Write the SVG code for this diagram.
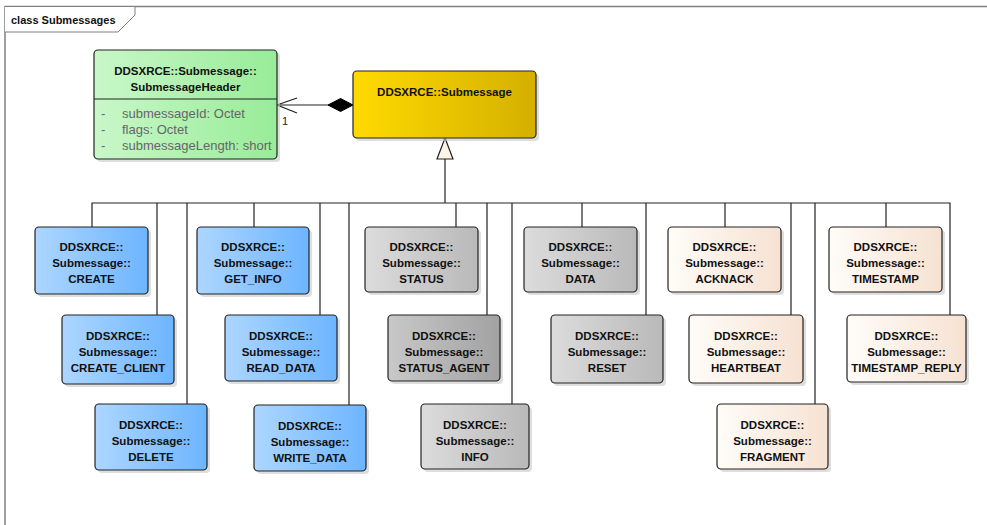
<svg xmlns="http://www.w3.org/2000/svg" width="987" height="525" viewBox="0 0 987 525">
<defs>
<linearGradient id="gBlue" x1="0" y1="0" x2="1" y2="0"><stop offset="0" stop-color="#ADD6FF"/><stop offset="1" stop-color="#6DB5FF"/></linearGradient>
<linearGradient id="gGrey" x1="0" y1="0" x2="1" y2="0"><stop offset="0" stop-color="#DCDCDC"/><stop offset="1" stop-color="#B9B9B9"/></linearGradient>
<linearGradient id="gGreyD" x1="0" y1="0" x2="1" y2="0"><stop offset="0" stop-color="#C8C8C8"/><stop offset="1" stop-color="#A2A2A2"/></linearGradient>
<linearGradient id="gCream" x1="0" y1="0" x2="1" y2="0"><stop offset="0" stop-color="#FFFCF8"/><stop offset="1" stop-color="#F6E2D2"/></linearGradient>
<linearGradient id="gGreen" x1="0" y1="0" x2="1" y2="0"><stop offset="0" stop-color="#C9F7C9"/><stop offset="1" stop-color="#98EC98"/></linearGradient>
<linearGradient id="gGold" x1="0" y1="0" x2="1" y2="0"><stop offset="0" stop-color="#FFDA00"/><stop offset="1" stop-color="#D4B000"/></linearGradient>
</defs>
<style>
.box{stroke:#222;stroke-width:1.2}
.sh{fill:#C8C8C8;opacity:0.6}
.t{font-family:"Liberation Sans",Arial,sans-serif;font-size:11.5px;font-weight:bold;fill:#111;text-anchor:middle}
.a{font-family:"Liberation Sans",Arial,sans-serif;font-size:13px;fill:#666}
.c{fill:none;stroke:#222;stroke-width:1.2}
</style>
<rect width="987" height="525" fill="#fff"/>
<g id="frame">
<path d="M5,525 V6.5 H987" fill="none" stroke="#808080" stroke-width="1.5"/>
<path d="M5,6.5 H135 V15 L118,32 H5" fill="#fff" stroke="#808080" stroke-width="1"/>
<text x="11" y="24" style="font-family:'Liberation Sans',Arial,sans-serif;font-size:11px;font-weight:bold;fill:#111">class Submessages</text>
</g>
<g id="connectors">
<path class="c" d="M277,105 H353"/>
<path class="c" d="M297,98 L277,105 L297,113"/>
<path d="M328,105 L340.5,98.5 L353,105 L340.5,111.5 Z" fill="#000" stroke="#000"/>
<text x="282" y="125" style="font-family:'Liberation Sans',Arial,sans-serif;font-size:11px;fill:#222">1</text>
<path class="c" d="M445,159 V203"/>
<path d="M445,138 L437,159 H453 Z" fill="#FDF3E6" stroke="#222" stroke-width="1.2"/>
<path class="c" d="M92,227 V203 H950 V315"/>
<path class="c" d="M157,315 V203 M187,404 V203 M254,227 V203 M320,315 V203 M349,405 V203 M456,227 V203 M487,315 V203 M512,404 V203 M582,227 V203 M646,315 V203 M725,227 V203 M791,315 V203 M815,404 V203 M886,227 V203"/>
</g>
<g id="SubmessageHeader">
<rect class="sh" x="97" y="53" width="183" height="109" rx="4"/>
<rect class="box" x="94" y="50" width="183" height="109" rx="4" fill="url(#gGreen)"/>
<line x1="94" y1="99" x2="277" y2="99" stroke="#222" stroke-width="1.2"/>
<text class="t" x="185.5" y="75">DDSXRCE::Submessage::</text>
<text class="t" x="185.5" y="91">SubmessageHeader</text>
<text class="a" x="101" y="118">-</text><text class="a" x="122" y="118">submessageId: Octet</text>
<text class="a" x="101" y="134">-</text><text class="a" x="122" y="134">flags: Octet</text>
<text class="a" x="101" y="150">-</text><text class="a" x="122" y="150">submessageLength: short</text>
</g>
<g id="Submessage">
<rect class="sh" x="356" y="74" width="183" height="67" rx="4"/>
<rect class="box" x="353" y="71" width="183" height="67" rx="4" fill="url(#gGold)"/>
<text class="t" x="444.5" y="96">DDSXRCE::Submessage</text>
</g>
<g id="CREATE">
<rect class="sh" x="38" y="230" width="113" height="67" rx="4"/>
<rect class="box" x="35" y="227" width="113" height="67" rx="4" fill="url(#gBlue)"/>
<text class="t" x="91.5" y="251">DDSXRCE::</text><text class="t" x="91.5" y="267">Submessage::</text><text class="t" x="91.5" y="283">CREATE</text>
</g>
<g id="CREATE_CLIENT">
<rect class="sh" x="65" y="318" width="112" height="69" rx="4"/>
<rect class="box" x="62" y="315" width="112" height="69" rx="4" fill="url(#gBlue)"/>
<text class="t" x="118" y="340">DDSXRCE::</text><text class="t" x="118" y="356">Submessage::</text><text class="t" x="118" y="372">CREATE_CLIENT</text>
</g>
<g id="DELETE">
<rect class="sh" x="98" y="407" width="112" height="66" rx="4"/>
<rect class="box" x="95" y="404" width="112" height="66" rx="4" fill="url(#gBlue)"/>
<text class="t" x="151" y="429">DDSXRCE::</text><text class="t" x="151" y="445">Submessage::</text><text class="t" x="151" y="461">DELETE</text>
</g>
<g id="GET_INFO">
<rect class="sh" x="200" y="230" width="112" height="67" rx="4"/>
<rect class="box" x="197" y="227" width="112" height="67" rx="4" fill="url(#gBlue)"/>
<text class="t" x="253" y="251">DDSXRCE::</text><text class="t" x="253" y="267">Submessage::</text><text class="t" x="253" y="283">GET_INFO</text>
</g>
<g id="READ_DATA">
<rect class="sh" x="228" y="318" width="112" height="66" rx="4"/>
<rect class="box" x="225" y="315" width="112" height="66" rx="4" fill="url(#gBlue)"/>
<text class="t" x="281" y="340">DDSXRCE::</text><text class="t" x="281" y="356">Submessage::</text><text class="t" x="281" y="372">READ_DATA</text>
</g>
<g id="WRITE_DATA">
<rect class="sh" x="257" y="408" width="112" height="66" rx="4"/>
<rect class="box" x="254" y="405" width="112" height="66" rx="4" fill="url(#gBlue)"/>
<text class="t" x="310" y="430">DDSXRCE::</text><text class="t" x="310" y="446">Submessage::</text><text class="t" x="310" y="462">WRITE_DATA</text>
</g>
<g id="STATUS">
<rect class="sh" x="368" y="230" width="113" height="65" rx="4"/>
<rect class="box" x="365" y="227" width="113" height="65" rx="4" fill="url(#gGrey)"/>
<text class="t" x="421.5" y="251">DDSXRCE::</text><text class="t" x="421.5" y="267">Submessage::</text><text class="t" x="421.5" y="283">STATUS</text>
</g>
<g id="STATUS_AGENT">
<rect class="sh" x="391" y="318" width="112" height="66" rx="4"/>
<rect class="box" x="388" y="315" width="112" height="66" rx="4" fill="url(#gGreyD)"/>
<text class="t" x="444" y="340">DDSXRCE::</text><text class="t" x="444" y="356">Submessage::</text><text class="t" x="444" y="372">STATUS_AGENT</text>
</g>
<g id="INFO">
<rect class="sh" x="424" y="407" width="108" height="65" rx="4"/>
<rect class="box" x="421" y="404" width="108" height="65" rx="4" fill="url(#gGrey)"/>
<text class="t" x="475" y="429">DDSXRCE::</text><text class="t" x="475" y="445">Submessage::</text><text class="t" x="475" y="461">INFO</text>
</g>
<g id="DATA">
<rect class="sh" x="527" y="230" width="113" height="65" rx="4"/>
<rect class="box" x="524" y="227" width="113" height="65" rx="4" fill="url(#gGrey)"/>
<text class="t" x="580.5" y="251">DDSXRCE::</text><text class="t" x="580.5" y="267">Submessage::</text><text class="t" x="580.5" y="283">DATA</text>
</g>
<g id="RESET">
<rect class="sh" x="554" y="318" width="112" height="68" rx="4"/>
<rect class="box" x="551" y="315" width="112" height="68" rx="4" fill="url(#gGrey)"/>
<text class="t" x="607" y="340">DDSXRCE::</text><text class="t" x="607" y="356">Submessage::</text><text class="t" x="607" y="372">RESET</text>
</g>
<g id="ACKNACK">
<rect class="sh" x="671" y="230" width="113" height="65" rx="4"/>
<rect class="box" x="668" y="227" width="113" height="65" rx="4" fill="url(#gCream)"/>
<text class="t" x="724.5" y="251">DDSXRCE::</text><text class="t" x="724.5" y="267">Submessage::</text><text class="t" x="724.5" y="283">ACKNACK</text>
</g>
<g id="HEARTBEAT">
<rect class="sh" x="692" y="318" width="114" height="68" rx="4"/>
<rect class="box" x="689" y="315" width="114" height="68" rx="4" fill="url(#gCream)"/>
<text class="t" x="746" y="340">DDSXRCE::</text><text class="t" x="746" y="356">Submessage::</text><text class="t" x="746" y="372">HEARTBEAT</text>
</g>
<g id="FRAGMENT">
<rect class="sh" x="720" y="407" width="111" height="65" rx="4"/>
<rect class="box" x="717" y="404" width="111" height="65" rx="4" fill="url(#gCream)"/>
<text class="t" x="772.5" y="429">DDSXRCE::</text><text class="t" x="772.5" y="445">Submessage::</text><text class="t" x="772.5" y="461">FRAGMENT</text>
</g>
<g id="TIMESTAMP">
<rect class="sh" x="832" y="230" width="113" height="65" rx="4"/>
<rect class="box" x="829" y="227" width="113" height="65" rx="4" fill="url(#gCream)"/>
<text class="t" x="885.5" y="251">DDSXRCE::</text><text class="t" x="885.5" y="267">Submessage::</text><text class="t" x="885.5" y="283">TIMESTAMP</text>
</g>
<g id="TIMESTAMP_REPLY">
<rect class="sh" x="850" y="318" width="119" height="67" rx="4"/>
<rect class="box" x="847" y="315" width="119" height="67" rx="4" fill="url(#gCream)"/>
<text class="t" x="906.5" y="340">DDSXRCE::</text><text class="t" x="906.5" y="356">Submessage::</text><text class="t" x="906.5" y="372">TIMESTAMP_REPLY</text>
</g>
</svg>
